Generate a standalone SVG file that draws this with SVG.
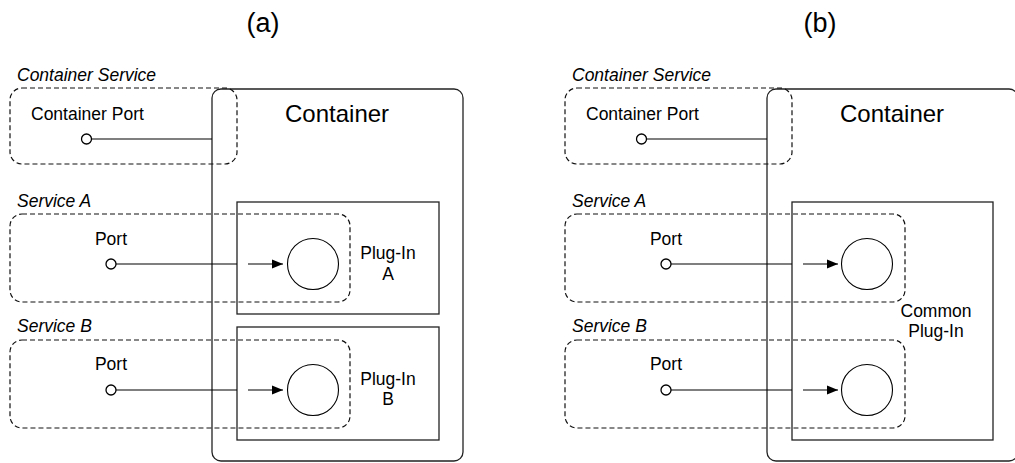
<svg xmlns="http://www.w3.org/2000/svg" width="1015" height="463" viewBox="0 0 1015 463">
<defs>
<style>
text{font-family:"Liberation Sans",Arial,sans-serif;fill:#000}
.title{font-size:27px;text-anchor:middle}
.svc{font-size:17.5px;font-style:italic}
.lbl{font-size:17.5px}
.big{font-size:24px}
.cont{fill:none;stroke:#222;stroke-width:1.3}
.dash{fill:none;stroke:#111;stroke-width:1.2;stroke-dasharray:5,3}
.box{fill:none;stroke:#222;stroke-width:1.3}
.port{fill:#fff;stroke:#000;stroke-width:1.3}
.plug{fill:#fff;stroke:#000;stroke-width:1.1}
.ln{stroke:#000;stroke-width:1.2;fill:none}
</style>
<marker id="ah" markerWidth="12" markerHeight="11" refX="11" refY="5" orient="auto" markerUnits="userSpaceOnUse">
<path d="M0,0.5 L11,5 L0,9.5 Z" fill="#000"/>
</marker>
</defs>
<g id="title-a"><text class="title" x="263" y="32">(a)</text></g>
<g id="title-b"><text class="title" x="820" y="32">(b)</text></g>

<!-- Panel A -->
<g id="a-container"><rect class="cont" x="212" y="89" width="251" height="372" rx="9"/><text class="big" x="285" y="122">Container</text></g>
<g id="a-plugin-a"><rect class="box" x="237" y="202" width="202" height="112"/><text class="lbl" x="388" y="259" text-anchor="middle">Plug-In</text><text class="lbl" x="388" y="280" text-anchor="middle">A</text><circle class="plug" cx="313" cy="264" r="25.5"/></g>
<g id="a-plugin-b"><rect class="box" x="237" y="327" width="202" height="113"/><text class="lbl" x="388" y="385" text-anchor="middle">Plug-In</text><text class="lbl" x="388" y="405" text-anchor="middle">B</text><circle class="plug" cx="313" cy="390" r="25.5"/></g>
<g id="a-container-service"><text class="svc" x="17" y="81">Container Service</text><rect class="dash" x="10" y="88" width="227" height="76" rx="12"/><text class="lbl" x="31" y="120">Container Port</text></g>
<g id="a-service-a"><text class="svc" x="17" y="207">Service A</text><rect class="dash" x="10" y="214" width="340" height="88" rx="12"/><text class="lbl" x="111" y="245" text-anchor="middle">Port</text></g>
<g id="a-service-b"><text class="svc" x="17" y="332">Service B</text><rect class="dash" x="10" y="340" width="340" height="88" rx="12"/><text class="lbl" x="111" y="370" text-anchor="middle">Port</text></g>

<!-- Panel B -->
<g id="b-container"><rect class="cont" x="767" y="89" width="251" height="372" rx="9"/><text class="big" x="840" y="122">Container</text></g>
<g id="b-common-plugin"><rect class="box" x="792" y="202" width="201" height="238"/><text class="lbl" x="936" y="317" text-anchor="middle">Common</text><text class="lbl" x="936" y="337" text-anchor="middle">Plug-In</text><circle class="plug" cx="867" cy="264" r="25.5"/><circle class="plug" cx="867" cy="390" r="25.5"/></g>
<g id="b-container-service"><text class="svc" x="572" y="81">Container Service</text><rect class="dash" x="565" y="88" width="227" height="76" rx="12"/><text class="lbl" x="586" y="120">Container Port</text></g>
<g id="b-service-a"><text class="svc" x="572" y="207">Service A</text><rect class="dash" x="565" y="214" width="340" height="88" rx="12"/><text class="lbl" x="666" y="245" text-anchor="middle">Port</text></g>
<g id="b-service-b"><text class="svc" x="572" y="332">Service B</text><rect class="dash" x="565" y="340" width="340" height="88" rx="12"/><text class="lbl" x="666" y="370" text-anchor="middle">Port</text></g>

<g id="connectors">
<line class="ln" x1="91" y1="139" x2="212" y2="139"/>
<line class="ln" x1="116" y1="264" x2="237" y2="264"/>
<line class="ln" x1="248" y1="264" x2="283" y2="264" marker-end="url(#ah)"/>
<line class="ln" x1="116" y1="390" x2="237" y2="390"/>
<line class="ln" x1="248" y1="390" x2="283" y2="390" marker-end="url(#ah)"/>
<line class="ln" x1="646" y1="139" x2="767" y2="139"/>
<line class="ln" x1="671" y1="264" x2="792" y2="264"/>
<line class="ln" x1="803" y1="264" x2="838" y2="264" marker-end="url(#ah)"/>
<line class="ln" x1="671" y1="390" x2="792" y2="390"/>
<line class="ln" x1="803" y1="390" x2="838" y2="390" marker-end="url(#ah)"/>
<circle class="port" cx="86.5" cy="139" r="5"/>
<circle class="port" cx="111" cy="264" r="5"/>
<circle class="port" cx="111" cy="390" r="5"/>
<circle class="port" cx="641.5" cy="139" r="5"/>
<circle class="port" cx="666" cy="264" r="5"/>
<circle class="port" cx="666" cy="390" r="5"/>
</g>
</svg>
